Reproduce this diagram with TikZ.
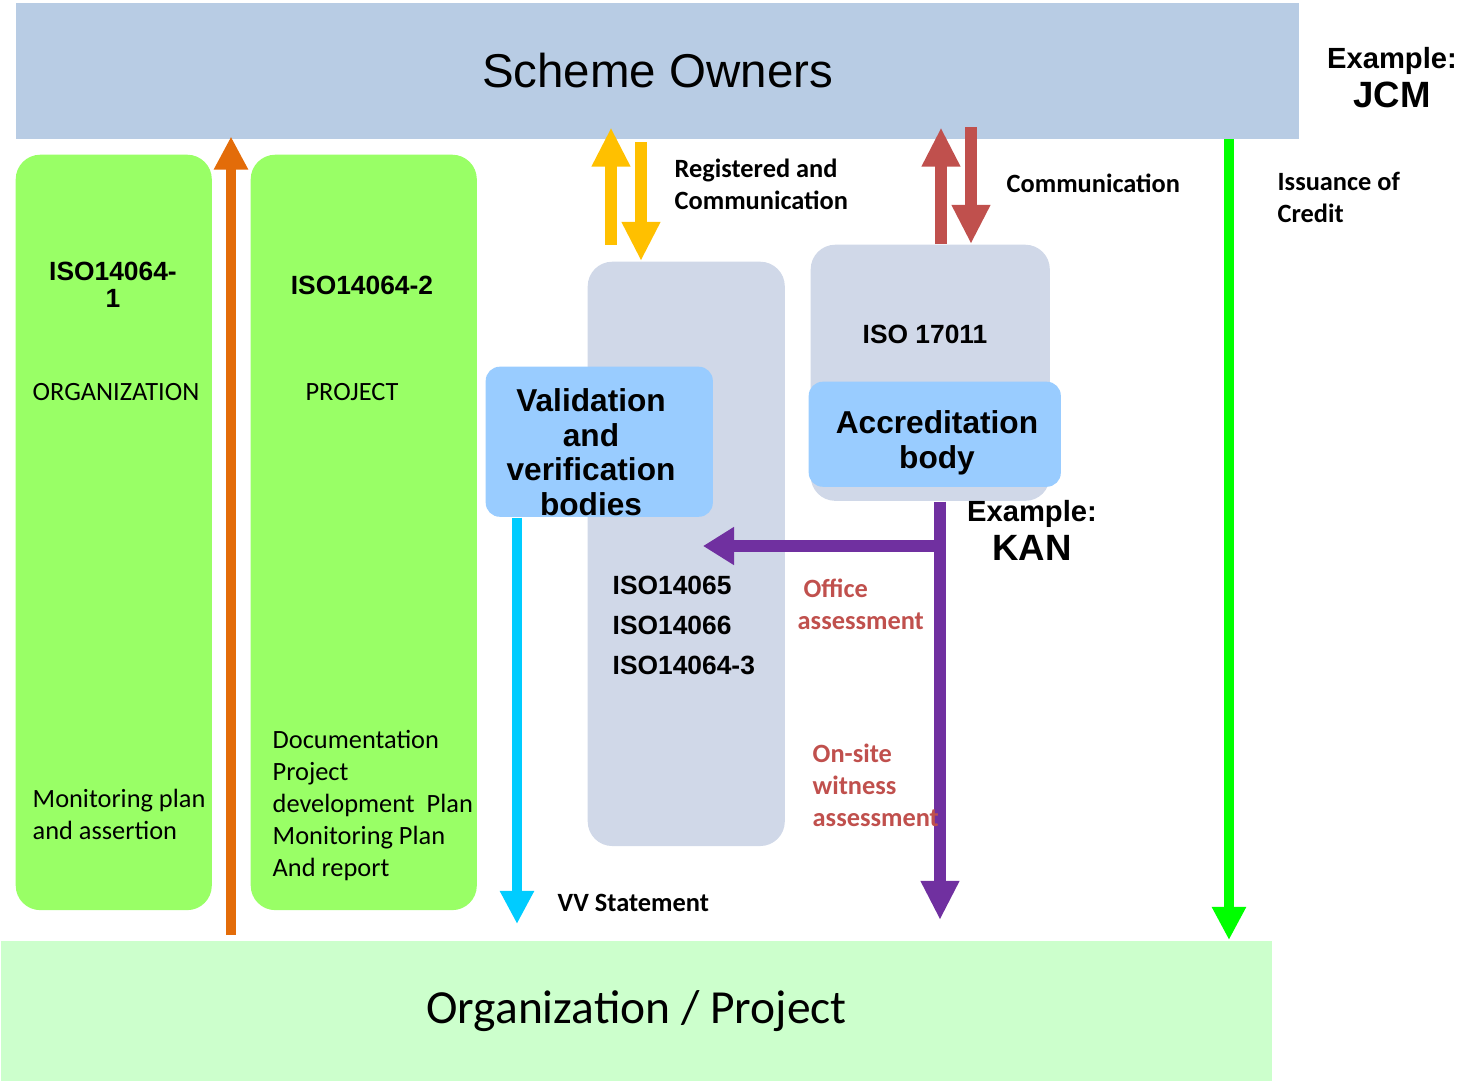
\documentclass[tikz,border=0pt]{standalone}
\usepackage{fontspec}
\setmainfont{Liberation Sans}
\newfontfamily\calibri{Carlito}
\usetikzlibrary{arrows.meta, positioning}

\definecolor{schemeblue}{HTML}{B8CCE4}
\definecolor{orgmint}{HTML}{CCFFCC}
\definecolor{boxgreen}{HTML}{99FF66}
\definecolor{backgray}{HTML}{D0D8E8}
\definecolor{bodyblue}{HTML}{99CCFF}
\definecolor{arrorange}{HTML}{E36C09}
\definecolor{arryellow}{HTML}{FFC000}
\definecolor{arrred}{HTML}{C0504D}
\definecolor{arrgreen}{HTML}{00FF00}
\definecolor{arrcyan}{HTML}{00CCFF}
\definecolor{arrpurple}{HTML}{7030A0}

\tikzset{
	band/.style={rectangle, inner sep=0, anchor=north west}, % the two wide bars
	pillar/.style={rectangle, rounded corners=7pt, fill=boxgreen, inner sep=0, anchor=north west}, % green standard columns
	backbox/.style={rectangle, rounded corners=7pt, fill=backgray, inner sep=0, anchor=north west}, % gray boxes behind the bodies
	bodybox/.style={rectangle, rounded corners=4pt, fill=bodyblue, inner sep=0, anchor=north west}, % blue body boxes
	bodyname/.style={align=center, inner sep=0, font=\bfseries\fontsize{9}{9.8}\selectfont}, % names of the bodies
	fatarrow/.style={line width=0.115cm, -{Triangle[width=0.36cm, length=0.39cm]}}, % thick arrows
	thinarrow/.style={line width=0.1cm, -{Triangle[width=0.32cm, length=0.33cm]}}, % thinner arrows
	note/.style={font=\calibri\fontsize{7.5}{9.1}\selectfont, align=left, inner sep=0}, % plain notes
	notebold/.style={note, font=\calibri\bfseries\fontsize{7.5}{9.1}\selectfont}, % bold notes
	isolabel/.style={font=\bfseries\fontsize{7.5}{7.8}\selectfont, align=center, inner sep=0}, % standard numbers
}

\begin{document}
\begin{tikzpicture}[x=0.01cm, y=-0.01cm]
	\useasboundingbox (0,0) rectangle (1459,1081);
	
	% Bars
	\node[band, fill=schemeblue, minimum width=12.83cm, minimum height=1.36cm] (owners) at (15,2) {\fontsize{13.5}{16}\selectfont Scheme Owners};
	\node[band, fill=orgmint, minimum width=12.71cm, minimum height=1.41cm] (orgproj) at (0,940) {\calibri\fontsize{13.5}{16}\selectfont Organization / Project};
	
	% Columns
	\node[pillar, minimum width=1.96cm, minimum height=7.55cm] (org) at (15,154) {};
	\node[pillar, minimum width=2.26cm, minimum height=7.55cm] (proj) at (250,154) {};
	\node[backbox, minimum width=1.97cm, minimum height=5.84cm] (vvback) at (587,261) {};
	\node[backbox, minimum width=2.39cm, minimum height=2.56cm] (abback) at (810,244) {};
	\node[bodybox, minimum width=2.27cm, minimum height=1.50cm] (vvbody) at (485,366) {};
	\node[bodybox, minimum width=2.52cm, minimum height=1.05cm] (abbody) at (808,381) {};
	\node[bodyname] (vvname) at (591,452) {Validation\\and\\verification\\bodies};
	\node[bodyname] (abname) at (937,443) {Accreditation\\body};
	
	% Texts in the columns
	\node[isolabel, anchor=north] (orgiso) at (113,261) {ISO14064-\\1};
	\node[note] (orgname) at (116,392) {ORGANIZATION};
	\node[note, anchor=north west] (orgdoc) at (32,788) {Monitoring plan\\and assertion};
	\node[isolabel] (projiso) at (362,285) {ISO14064-2};
	\node[note] (projname) at (352,392) {PROJECT};
	\node[note, anchor=north west] (projdoc) at (272,730) {Documentation\\Project\\development~~Plan\\Monitoring Plan\\And report};
	\node[isolabel, align=left, font=\bfseries\fontsize{7.5}{11.4}\selectfont, anchor=north west] (vviso) at (612,575) {ISO14065\\ISO14066\\ISO14064-3};
	\node[isolabel] (abiso) at (925,334) {ISO 17011};
	
	% Examples
	\node[isolabel, font=\bfseries\fontsize{8.3}{9}\selectfont, anchor=base] (jcmex) at (1392,68) {Example:};
	\node[isolabel, font=\bfseries\fontsize{10.4}{11}\selectfont, anchor=base] (jcm) at (1392,107) {JCM};
	\node[isolabel, font=\bfseries\fontsize{8.3}{9}\selectfont, anchor=base] (kanex) at (1032,521) {Example:};
	\node[isolabel, font=\bfseries\fontsize{10.4}{11}\selectfont, anchor=base] (kan) at (1032,560) {KAN};
	
	% Arrow columns
	\coordinate (orng) at (231,0);
	\coordinate (ylwup) at (611,0);
	\coordinate (ylwdn) at (641,0);
	\coordinate (redup) at (941,0);
	\coordinate (reddn) at (971,0);
	\coordinate (cyn) at (517,0);
	\coordinate (prp) at (940,0);
	\coordinate (grn) at (1229,0);
	\coordinate (vvtarget) at (703,546);
	
	% Arrows
	\draw[thinarrow, draw=arrorange] ([yshift=0.05cm]orgproj.north -| orng) -- ([yshift=0.03cm]owners.south -| orng);
	\draw[fatarrow, draw=arryellow] ([yshift=0.16cm]vvback.north -| ylwup) -- ([yshift=0.12cm]owners.south -| ylwup);
	\draw[fatarrow, draw=arryellow] ([yshift=-0.03cm]owners.south -| ylwdn) -- (vvback.north -| ylwdn);
	\draw[fatarrow, draw=arrred] (abback.north -| redup) -- ([yshift=0.12cm]owners.south -| redup);
	\draw[fatarrow, draw=arrred] ([yshift=0.12cm]owners.south -| reddn) -- (abback.north -| reddn);
	\draw[thinarrow, draw=arrgreen] (owners.south -| grn) -- (orgproj.north -| grn);
	\draw[thinarrow, draw=arrcyan] (vvbody.south -| cyn) -- ([yshift=0.16cm]orgproj.north -| cyn);
	\draw[fatarrow, draw=arrpurple] (abback.south -| prp) -- ([yshift=0.2cm]orgproj.north -| prp);
	\draw[fatarrow, draw=arrpurple, -{Triangle[width=0.36cm, length=0.31cm]}] (prp |- vvtarget) -- (vvtarget);
	
	% Arrow labels
	\node[notebold, anchor=north west] (reglbl) at (674,158) {Registered and\\Communication};
	\node[notebold, anchor=west] (comlbl) at (1006,183) {Communication};
	\node[notebold, anchor=north west] (credlbl) at (1277,171) {Issuance of\\Credit};
	\node[notebold, anchor=west] (vvlbl) at (557,903) {VV Statement};
	\node[notebold, text=arrred, anchor=north west] (officelbl) at (797,578) {~Office\\assessment};
	\node[notebold, text=arrred, anchor=north west] (sitelbl) at (812,743) {On-site\\witness\\assessment};
\end{tikzpicture}
\end{document}
